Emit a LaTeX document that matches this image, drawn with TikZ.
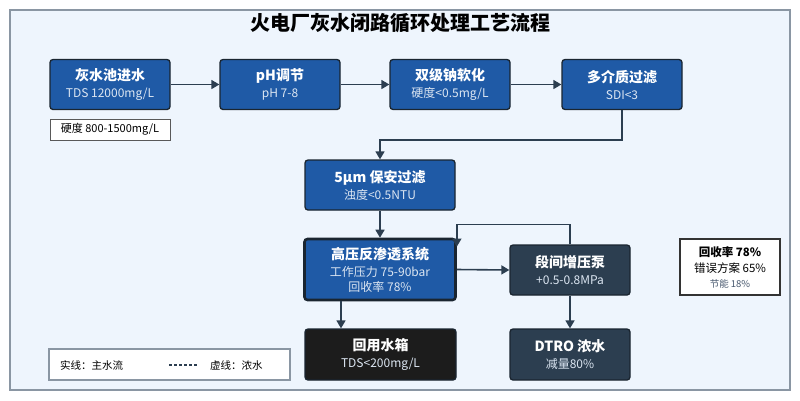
\documentclass[tikz,border=0pt]{standalone}
\usepackage{fontspec}
\setmainfont{Noto Sans CJK SC}
\usetikzlibrary{arrows.meta,calc}
\definecolor{bgfill}{HTML}{EEF5FD}
\definecolor{frame}{HTML}{8A96A3}
\definecolor{boxblue}{HTML}{1F5AA6}
\definecolor{edgec}{HTML}{1A2530}
\definecolor{slate}{HTML}{2C3E50}
\definecolor{nearblack}{HTML}{1C1C1C}
\definecolor{subtxt}{HTML}{DCE6F2}
\definecolor{arrowc}{HTML}{2C3E50}
\definecolor{mutetxt}{HTML}{4A5A70}
\newcommand{\ttl}[1]{{\bfseries\fontsize{14}{17}\selectfont #1}}
\newcommand{\sbt}[1]{{\fontsize{12}{14}\selectfont\color{subtxt}#1}}
\tikzset{
  procbox/.style={draw=edgec, line width=1.3pt, rounded corners=3pt, text=white, align=center, inner sep=0pt, minimum width=120pt, minimum height=50pt, font=\fontsize{12}{15}\selectfont},
  bluebox/.style={procbox, fill=boxblue},
  slatebox/.style={procbox, fill=slate},
  blackbox/.style={procbox, fill=nearblack},
  arr/.style={draw=arrowc, line width=1.6pt, -{Triangle[length=8pt,width=9pt]}},
}
\begin{document}
\begin{tikzpicture}[x=1pt,y=-1pt]
\useasboundingbox (0,0) rectangle (800,400);
\draw[fill=bgfill, draw=frame, line width=1.8pt] (10,10) rectangle (790,390);
\node (title) at (400,23) {\bfseries\fontsize{20}{23}\selectfont 火电厂灰水闭路循环处理工艺流程};
% row 1
\node[bluebox] (n1) at (110,84.5) {\ttl{灰水池进水}\\[2pt]\sbt{TDS 12000mg/L}};
\node[bluebox] (n2) at (280,84.5) {\ttl{pH调节}\\[2pt]\sbt{pH 7-8}};
\node[bluebox] (n3) at (450,84.5) {\ttl{双级钠软化}\\[2pt]\sbt{硬度<0.5mg/L}};
\node[bluebox] (n4) at (622,84.5) {\ttl{多介质过滤}\\[2pt]\sbt{SDI<3}};
\node[draw=black!65, line width=0.9pt, fill=white, minimum width=120pt, minimum height=21pt, inner sep=0pt] (note) at (110,129.5) {\fontsize{11}{13}\selectfont 硬度 800-1500mg/L};
% middle
\node[bluebox, minimum width=150pt] (f5) at (380,185) {\ttl{5µm 保安过滤}\\[2pt]\sbt{浊度<0.5NTU}};
\node[bluebox, minimum width=151pt, minimum height=61pt, line width=2.6pt] (ro) at (380,269.5) {\ttl{高压反渗透系统}\\[2pt]\sbt{工作压力 75-90bar}\\[0pt]\sbt{回收率 78\%}};
\node[slatebox] (pump) at (570,270) {\ttl{段间增压泵}\\[2pt]\sbt{+0.5-0.8MPa}};
\node[blackbox, minimum width=151pt, minimum height=51pt] (tank) at (380.5,354.5) {\ttl{回用水箱}\\[2pt]\sbt{TDS<200mg/L}};
\node[slatebox, minimum height=51pt] (dtro) at (570,354.5) {\ttl{DTRO 浓水}\\[2pt]\sbt{减量80\%}};
% side box
\node[draw=black!80, line width=1.4pt, fill=white, minimum width=100pt, minimum height=56pt, align=center, inner sep=0pt, font=\fontsize{11.5}{16}\selectfont] (side) at (730,267) {{\bfseries 回收率 78\%}\\{错误方案 65\%}\\[-1pt]{\fontsize{9.5}{12}\selectfont\color{mutetxt}节能 18\%}};
% legend
\node[draw=frame, line width=1.3pt, fill=white, minimum width=241pt, minimum height=31pt, inner sep=0pt] (legend) at (169.5,364.5) {};
\node[anchor=west, inner sep=0pt] (lg1) at (60,365) {\fontsize{10.5}{12}\selectfont 实线：主水流};
\coordinate (da) at (169,365);
\coordinate (db) at (197,365);
\draw[arrowc, line width=1.6pt, dash pattern=on 3pt off 2pt] (da) -- (db);
\node[anchor=west, inner sep=0pt] (lg2) at (210,365) {\fontsize{10.5}{12}\selectfont 虚线：浓水};
% connectors
\draw[arr] (n1.east) -- (n2.west);
\draw[arr] (n2.east) -- (n3.west);
\draw[arr] (n3.east) -- (n4.west);
\draw[arr] (n4.south) -- ++(0,30) -| (f5.north);
\draw[arr] (f5.south) -- (ro.north);
\draw[arr] (ro.east) -- (pump.west);
\draw[arr] (pump.north) -- ++(0,-20) -| ($(ro.north east)+(0,9)$);
\draw[arr] ([xshift=-39pt]ro.south) -- ([xshift=-39.5pt]tank.north);
\draw[arr] (pump.south) -- (dtro.north);
\end{tikzpicture}
\end{document}
